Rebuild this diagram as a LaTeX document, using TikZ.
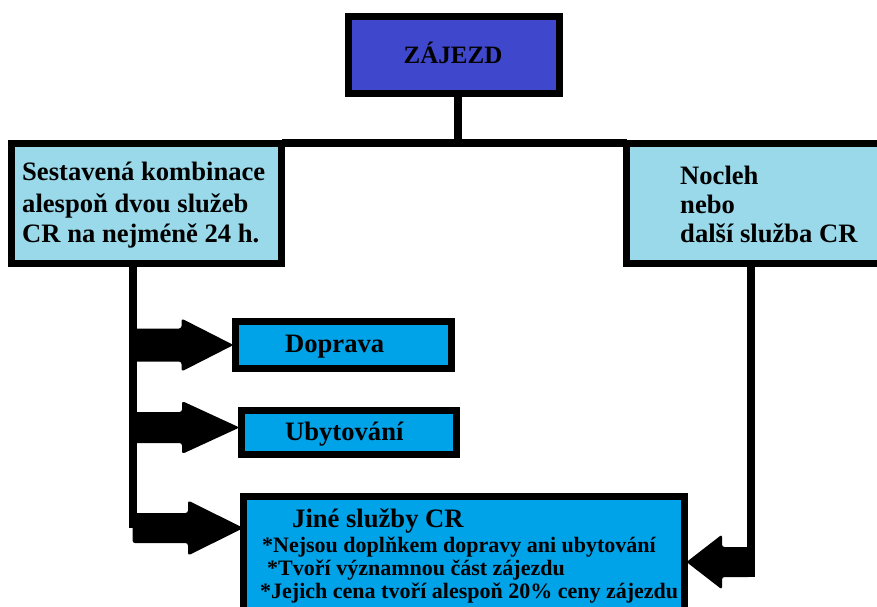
\documentclass[tikz,border=0pt]{standalone}
\usepackage{fontspec}
\setmainfont{Liberation Serif}
\usetikzlibrary{calc}
\definecolor{cTop}{HTML}{3F48CC}
\definecolor{cLight}{HTML}{99D9EA}
\definecolor{cBright}{HTML}{00A2E8}
% #1 start coordinate (stem), #2 tip coordinate, #3 half shaft, #4 half head, #5 head length (signed)
\newcommand\blockarr[5]{%
 \fill[rounded corners=2.5pt] ($(#2 -| #1)+(0,-#3)$) -- ($(#2)+({-(#5)},-#3)$) -- ($(#2)+({-(#5)},-#4)$) -- (#2) -- ($(#2)+({-(#5)},#4)$) -- ($(#2)+({-(#5)},#3)$) -- ($(#2 -| #1)+(0,#3)$) -- cycle;}
\begin{document}
\begin{tikzpicture}[x=1pt,y=-1pt,
  box/.style={draw=black,line width=7pt,inner sep=0pt,outer sep=0pt},
  conn/.style={draw=black,line width=8pt},
  big/.style={anchor=base west,inner sep=0pt,font=\bfseries\fontsize{26.6}{31}\selectfont},
  small/.style={anchor=base west,inner sep=0pt,font=\bfseries\fontsize{22}{23}\selectfont}]
\useasboundingbox (0,0) rectangle (877,606);
\node[box,fill=cTop,minimum width=211pt,minimum height=77pt] (zajezd) at (454,55) {};
\node[box,fill=cLight,minimum width=270pt,minimum height=120.5pt] (left) at (146.5,203.25) {};
\node[box,fill=cLight,minimum width=273.5pt,minimum height=120.5pt] (right) at (763.25,203.25) {};
\node[box,fill=cBright,minimum width=216pt,minimum height=47pt] (doprava) at (343.5,345) {};
\node[box,fill=cBright,minimum width=215pt,minimum height=44pt] (ubyt) at (349,432.5) {};
\node[box,fill=cBright,minimum width=441pt,minimum height=143.5pt] (jine) at (464,568.25) {};
% connectors
\coordinate (zs) at ($(zajezd.south)+(3.5,0)$);
\draw[conn] (zs) -- (zs |- left.north);
\draw[conn] (left.north east) -- (right.north west);
\coordinate (ls) at ($(left.south west)+(121,0)$);
\coordinate (rs) at ($(right.south west)+(124.5,0)$);
\coordinate (dt) at ($(doprava.west)+(-2,0)$);
\coordinate (ut) at ($(ubyt.west)+(-2,-5)$);
\coordinate (jt) at ($(jine.north west)+(0,31.5)$);
\coordinate (rt) at ($(jine.north east)+(2,65.5)$);
\draw[conn] (ls) -- (ls |- jt);
\blockarr{ls}{dt}{16.5}{26.5}{52}
\blockarr{ls}{ut}{15.5}{26.5}{57.5}
\blockarr{ls}{jt}{15}{27.5}{55.5}
\draw[conn] (rs) -- ($(rs |- rt)+(0,15)$);
\blockarr{rs}{rt}{15}{27.5}{-35.5}
% texts
\node[anchor=base,inner sep=0pt,font=\bfseries\fontsize{25}{30}\selectfont] (tz) at (453,63) {ZÁJEZD};
\node[big] (tl1) at (22,180) {Sestavená kombinace};
\node[big] (tl2) at (22,212) {alespoň dvou služeb};
\node[big] (tl3) at (22,242) {CR na nejméně 24 h.};
\node[big] (tr1) at (680,184) {Nocleh};
\node[big] (tr2) at (680,213) {nebo};
\node[big] (tr3) at (680,242) {další služba CR};
\node[big] (td) at (285,352) {Doprava};
\node[big] (tu) at (285,440) {Ubytování};
\node[big] (tj) at (292,527) {Jiné služby CR};
\node[small] (tj1) at (262,552) {*Nejsou doplňkem dopravy ani ubytování};
\node[small] (tj2) at (267,575) {*Tvoří významnou část zájezdu};
\node[small] (tj3) at (260,598) {*Jejich cena tvoří alespoň 20\% ceny zájezdu};
\end{tikzpicture}
\end{document}
